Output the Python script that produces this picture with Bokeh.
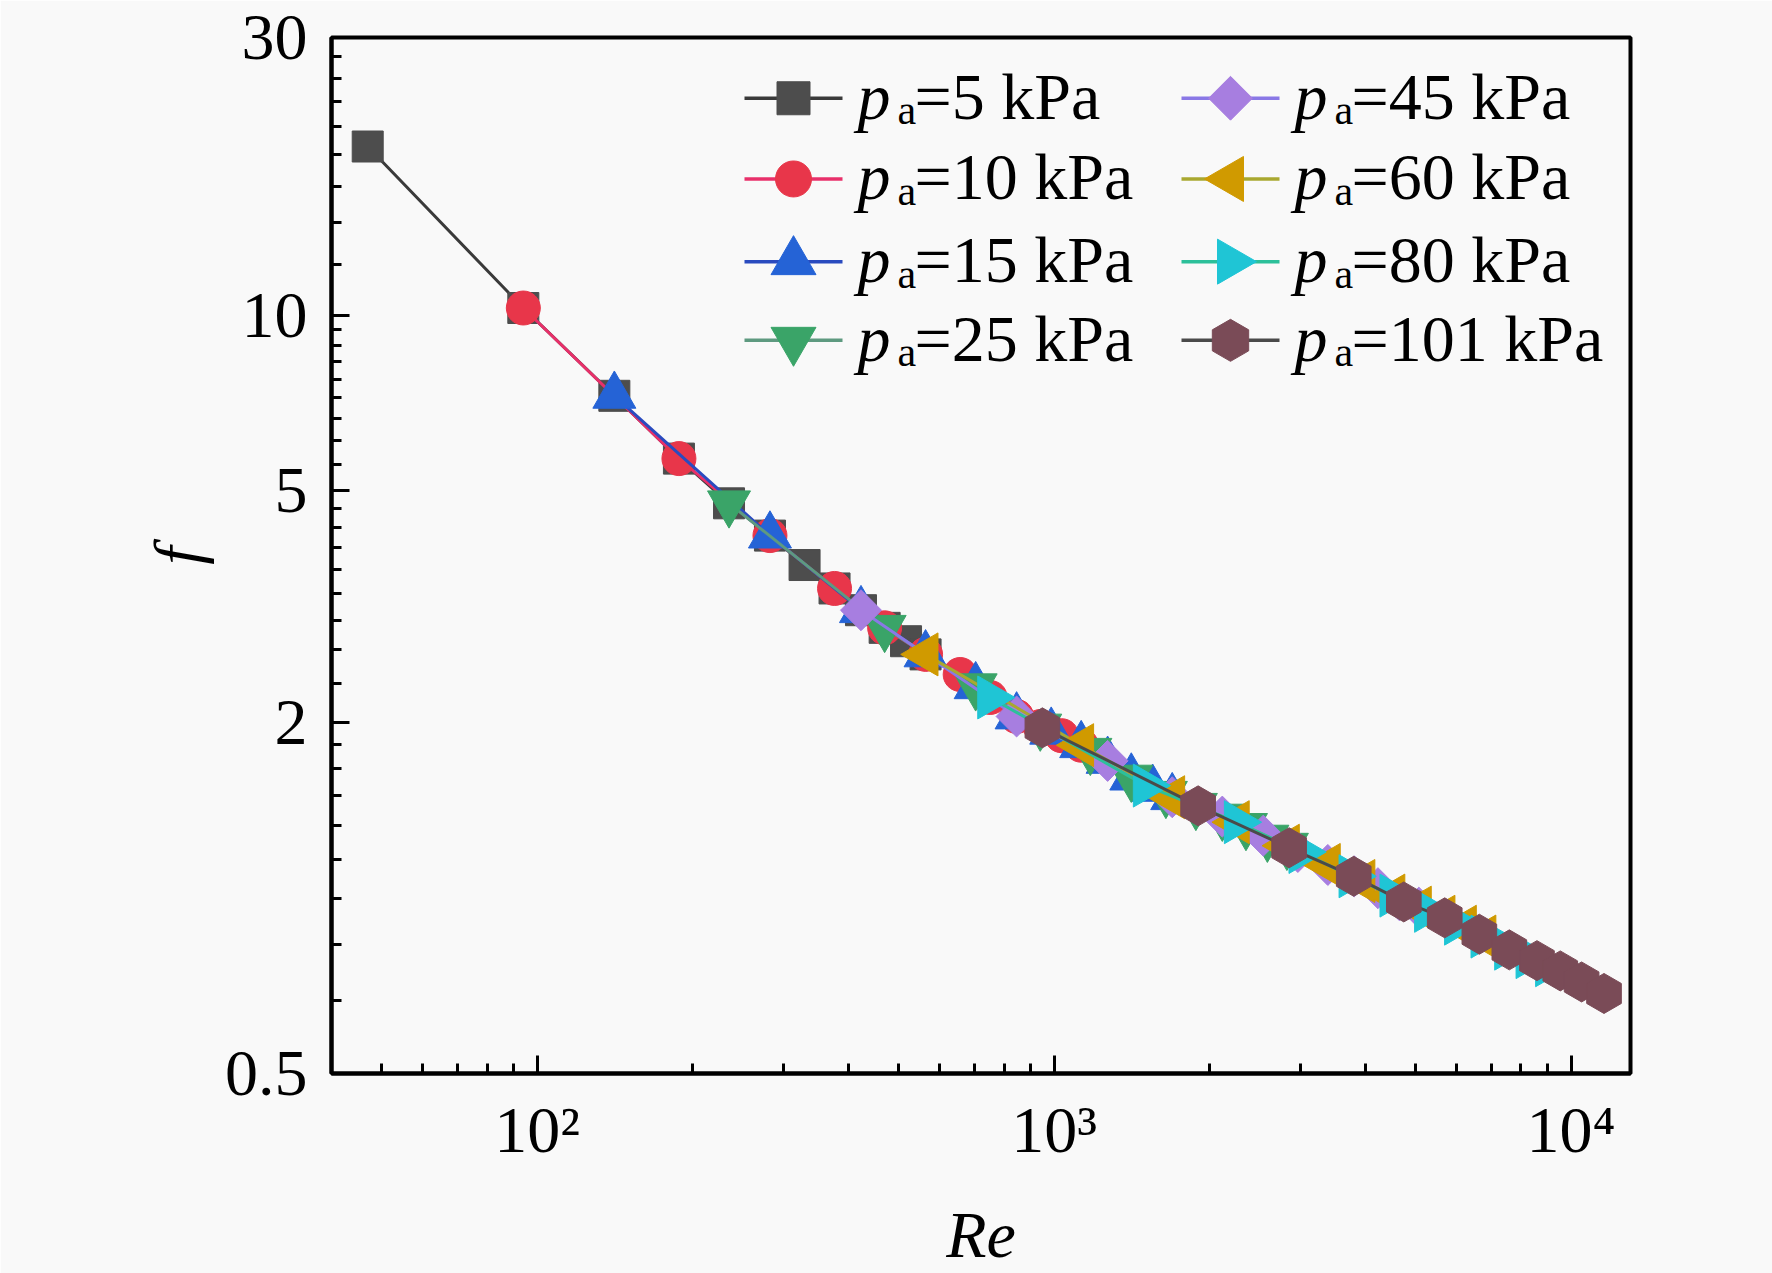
import math
from bokeh.plotting import figure
from bokeh.models import FixedTicker, Range1d, LinearScale, Label
from bokeh.embed import file_html
from bokeh.resources import INLINE

# ---------------- data ----------------
pressures = ["5", "10", "15", "25", "45", "60", "80", "101"]

re_5 = [47, 94, 141, 188, 235, 282, 329, 376, 423, 470, 517, 564]
f_5 = [19.5, 10.3, 7.28, 5.68, 4.76, 4.19, 3.73, 3.40, 3.12, 2.91, 2.76, 2.62]

re_10 = [94, 188, 282, 376, 470, 564, 658, 752, 846, 940, 1034, 1128]
f_10 = [10.3, 5.68, 4.19, 3.40, 2.91, 2.62, 2.42, 2.21, 2.05, 1.97, 1.90, 1.83]

re_15 = [141, 282, 423, 564, 705, 846, 987, 1128, 1269, 1410, 1551, 1692]
f_15 = [7.28, 4.19, 3.12, 2.62, 2.31, 2.05, 1.93, 1.83, 1.72, 1.61, 1.54, 1.49]

re_25 = [235, 470, 705, 940, 1175, 1410, 1645, 1880, 2115, 2350, 2585, 2820]
f_25 = [4.76, 2.91, 2.31, 1.97, 1.79, 1.61, 1.51, 1.44, 1.38, 1.33, 1.27, 1.23]

re_45 = [423, 846, 1269, 1692, 2115, 2538, 2961, 3384, 3807, 4230, 4653, 5076]
f_45 = [3.12, 2.05, 1.72, 1.49, 1.38, 1.28, 1.20, 1.14, 1.09, 1.04, 0.992, 0.963]

re_60 = [564, 1128, 1692, 2256, 2820, 3384, 3948, 4512, 5076, 5640, 6204, 6768]
f_60 = [2.62, 1.83, 1.49, 1.35, 1.23, 1.14, 1.07, 1.01, 0.963, 0.929, 0.893, 0.859]

re_80 = [752, 1504, 2256, 3008, 3760, 4512, 5264, 6016, 6768, 7520, 8272, 9024]
f_80 = [2.21, 1.56, 1.35, 1.20, 1.09, 1.01, 0.951, 0.904, 0.859, 0.819, 0.792, 0.767]

re_101 = [949, 1899, 2848, 3798, 4747, 5696, 6646, 7595, 8590, 9530, 10480, 11580]
f_101 = [1.96, 1.44, 1.22, 1.09, 0.985, 0.925, 0.867, 0.815, 0.781, 0.750, 0.718, 0.686]

x_major_ticks = [100, 1000, 10000]
x_minor_ticks = [50, 60, 70, 80, 90,
                 200, 300, 400, 500, 600, 700, 800, 900,
                 2000, 3000, 4000, 5000, 6000, 7000, 8000, 9000]
x_tick_labels = ["10\u00b2", "10\u00b3", "10\u2074"]

y_major_ticks = [0.5, 2, 5, 10, 30]
y_minor_ticks = [0.6667, 0.8333, 1.0, 1.1667, 1.3333, 1.5, 1.6667, 1.8333,
                 2.3333, 2.6667, 3.0, 3.3333, 3.6667, 4.0, 4.3333, 4.6667,
                 5.5556, 6.1111, 6.6667, 7.2222, 7.7778, 8.3333, 8.8889, 9.4444,
                 12.222, 14.444, 16.667, 18.889, 21.111, 23.333, 25.556, 27.778]
y_tick_labels = ["0.5", "2", "5", "10", "30"]

# ---------------- styles ----------------
FONT = "Liberation Serif"
FS = "66px"
BG = "#f9f9f9"
series_re = [re_5, re_10, re_15, re_25, re_45, re_60, re_80, re_101]
series_f = [f_5, f_10, f_15, f_25, f_45, f_60, f_80, f_101]
markers = ["square", "circle", "triangle", "inverted_triangle", "square", "triangle", "triangle", "hex"]
sizes = [31, 34, 43, 43, 29, 43, 43, 40]
angles = [0, 0, 0, 0, math.pi / 4, math.pi / 2, -math.pi / 2, math.pi / 2]
fills = ["#4d4d4d", "#e8364a", "#2563d6", "#3aa468", "#a77ee0", "#d09a00", "#1fc5d5", "#7a4b57"]
lines = ["#3a3a3a", "#e8306a", "#2a4bbf", "#5e9a80", "#8a78e6", "#a9a830", "#2cc09a", "#4a4a4a"]

p = figure(width=1772, height=1273, x_axis_type="log", y_axis_type="log",
           x_range=Range1d(40, 13030), y_range=Range1d(0.5, 30),
           output_backend="svg", toolbar_location=None, title=None,
           min_border_left=331, min_border_right=142,
           min_border_top=37, min_border_bottom=196)
p.background_fill_color = BG
p.border_fill_color = BG
p.xgrid.visible = False
p.ygrid.visible = False
p.outline_line_color = "black"
p.outline_line_width = 4
p.outline_line_alpha = 1.0

p.xaxis.ticker = FixedTicker(ticks=x_major_ticks, minor_ticks=x_minor_ticks)
p.yaxis.ticker = FixedTicker(ticks=y_major_ticks, minor_ticks=y_minor_ticks)
p.xaxis.major_label_overrides = {t: s for t, s in zip(x_major_ticks, x_tick_labels)}
p.yaxis.major_label_overrides = {t: s for t, s in zip(y_major_ticks, y_tick_labels)}
p.xaxis.axis_label = "Re"
p.yaxis.axis_label = "f"

for ax in (p.xaxis[0], p.yaxis[0]):
    ax.axis_line_width = 4
    ax.axis_line_color = "black"
    ax.major_tick_in = 18
    ax.major_tick_out = 0
    ax.minor_tick_in = 10
    ax.minor_tick_out = 0
    ax.major_tick_line_width = 3
    ax.minor_tick_line_width = 3
    ax.major_tick_line_color = "black"
    ax.minor_tick_line_color = "black"
    ax.major_label_text_font = FONT
    ax.major_label_text_font_size = FS
    ax.major_label_text_color = "black"
    ax.axis_label_text_font = FONT
    ax.axis_label_text_font_style = "italic"
    ax.axis_label_text_font_size = FS
    ax.axis_label_text_color = "black"
p.xaxis.major_label_standoff = 19
p.xaxis.axis_label_standoff = 29
p.yaxis.major_label_standoff = 24
p.yaxis.axis_label_standoff = 8

# ---------------- data series ----------------
for re_vals, f_vals, mk, sz, ang, fc, lc in zip(series_re, series_f, markers, sizes, angles, fills, lines):
    p.line(re_vals, f_vals, line_color=lc, line_width=3)
    p.scatter(re_vals, f_vals, marker=mk, size=sz, angle=ang,
              fill_color=fc, line_color=fc, line_width=1)

# ---------------- legend (page-pixel coordinates) ----------------
p.extra_x_ranges = {"px": Range1d(331, 1630)}
p.extra_y_ranges = {"py": Range1d(1077, 37)}
p.extra_x_scales = {"px": LinearScale()}
p.extra_y_scales = {"py": LinearScale()}

leg_x = [793, 1230]
leg_y = [98, 179, 262, 341]
for i, pr in enumerate(pressures):
    col, row = divmod(i, 4)
    mx, my = leg_x[col], leg_y[row]
    p.line([mx - 49, mx + 49], [my, my], x_range_name="px", y_range_name="py",
           line_color=lines[i], line_width=3.5)
    p.scatter([mx], [my], x_range_name="px", y_range_name="py", marker=markers[i],
              size=sizes[i] + 2, angle=angles[i], fill_color=fills[i], line_color=fills[i])
    p.add_layout(Label(x=mx + 64, y=my - 2, x_range_name="px", y_range_name="py",
                       text="p", text_font=FONT, text_font_style="italic",
                       text_font_size=FS, text_baseline="alphabetic", text_align="left",
                       text_color="black"))
    p.add_layout(Label(x=mx + 104, y=my + 12, x_range_name="px", y_range_name="py",
                       text="a", text_font=FONT, text_font_size="42px",
                       text_baseline="alphabetic", text_align="left", text_color="black"))
    p.add_layout(Label(x=mx + 121, y=my - 2, x_range_name="px", y_range_name="py",
                       text="=" + pr + " kPa", text_font=FONT, text_font_size=FS,
                       text_baseline="alphabetic", text_align="left", text_color="black"))

html = file_html(p, INLINE)
html = html.replace("<body>", '<body style="background-color:%s">' % BG, 1)
open("out.html", "w").write(html)
